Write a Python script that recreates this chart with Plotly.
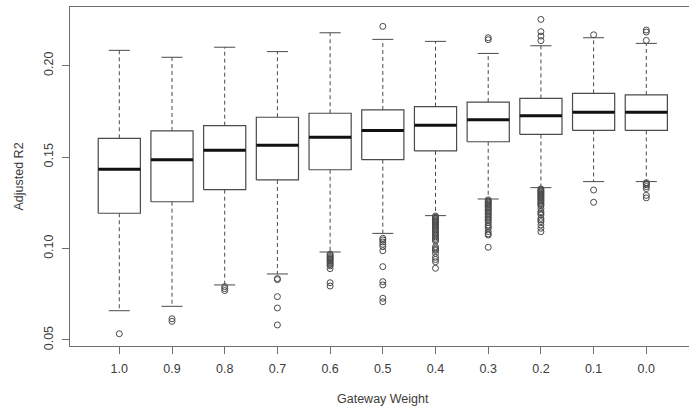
import plotly.graph_objects as go

# Gateway weight groups, left to right
weights = ["1.0", "0.9", "0.8", "0.7", "0.6", "0.5", "0.4", "0.3", "0.2", "0.1", "0.0"]

# Five-number summaries of adjusted R2 per group
lower_whisker = [0.0660, 0.0684, 0.0801, 0.0861, 0.0981, 0.1083, 0.1180, 0.1271, 0.1333, 0.1366, 0.1366]
q1 = [0.1193, 0.1256, 0.1322, 0.1375, 0.1431, 0.1486, 0.1534, 0.1584, 0.1624, 0.1646, 0.1646]
median = [0.1433, 0.1486, 0.1537, 0.1565, 0.1608, 0.1645, 0.1674, 0.1705, 0.1726, 0.1745, 0.1745]
q3 = [0.1603, 0.1643, 0.1672, 0.1718, 0.1740, 0.1758, 0.1776, 0.1801, 0.1821, 0.1849, 0.1840]
upper_whisker = [0.2084, 0.2046, 0.2101, 0.2077, 0.2180, 0.2144, 0.2133, 0.2067, 0.2109, 0.2153, 0.2122]

# Points beyond the whiskers
outliers_10 = [0.0534]
outliers_09 = [0.0616, 0.0602]
outliers_08 = [0.0792, 0.0781, 0.0770]
outliers_07 = [0.0836, 0.0830, 0.0737, 0.0675, 0.0582]
outliers_06 = [0.0970, 0.0963, 0.0956, 0.0950, 0.0945, 0.0940, 0.0934, 0.0927, 0.0919,
               0.0912, 0.0905, 0.0890, 0.0813, 0.0795]
outliers_05 = [0.2215, 0.1056, 0.1047, 0.1036, 0.1023, 0.1010, 0.0988, 0.0901, 0.0819,
               0.0801, 0.0728, 0.0709]
outliers_04 = [0.1178, 0.1172, 0.1166, 0.1160, 0.1154, 0.1148, 0.1142, 0.1135, 0.1129,
               0.1122, 0.1116, 0.1109, 0.1102, 0.1095, 0.1087, 0.1080, 0.1072, 0.1064,
               0.1056, 0.1048, 0.1041, 0.1010, 0.1001, 0.0995, 0.0989, 0.0974, 0.0952,
               0.0940, 0.0928, 0.0892]
outliers_03 = [0.2153, 0.2142, 0.1266, 0.1260, 0.1254, 0.1248, 0.1242, 0.1236, 0.1229,
               0.1222, 0.1215, 0.1208, 0.1200, 0.1192, 0.1184, 0.1176, 0.1168, 0.1160,
               0.1152, 0.1142, 0.1129, 0.1120, 0.1111, 0.1093, 0.1080, 0.1074, 0.1007]
outliers_02 = [0.2253, 0.2186, 0.2162, 0.2137, 0.1326, 0.1320, 0.1314, 0.1309, 0.1303,
               0.1298, 0.1292, 0.1287, 0.1281, 0.1275, 0.1268, 0.1262, 0.1254, 0.1247,
               0.1240, 0.1233, 0.1218, 0.1202, 0.1193, 0.1184, 0.1165, 0.1156, 0.1147,
               0.1129, 0.1111, 0.1092]
outliers_01 = [0.2169, 0.1320, 0.1253]
outliers_00 = [0.2195, 0.2184, 0.2138, 0.1360, 0.1355, 0.1349, 0.1339, 0.1328, 0.1291, 0.1277]

outliers = [outliers_10, outliers_09, outliers_08, outliers_07, outliers_06, outliers_05,
            outliers_04, outliers_03, outliers_02, outliers_01, outliers_00]

y_ticks = [0.05, 0.10, 0.15, 0.20]

LINE = "#4a4a4a"
TEXT = "#3c3c3c"
FRAME = "#6e6e6e"
HALF_BOX = 0.4
HALF_CAP = 0.2
FONT_SIZE = 12.5

pos = list(range(1, len(weights) + 1))

box_x, box_y = [], []
med_x, med_y = [], []
wh_x, wh_y = [], []
cap_x, cap_y = [], []
out_x, out_y = [], []
for i, p in enumerate(pos):
    box_x += [p - HALF_BOX, p + HALF_BOX, p + HALF_BOX, p - HALF_BOX, p - HALF_BOX, None]
    box_y += [q1[i], q1[i], q3[i], q3[i], q1[i], None]
    med_x += [p - HALF_BOX, p + HALF_BOX, None]
    med_y += [median[i], median[i], None]
    wh_x += [p, p, None, p, p, None]
    wh_y += [q3[i], upper_whisker[i], None, q1[i], lower_whisker[i], None]
    cap_x += [p - HALF_CAP, p + HALF_CAP, None, p - HALF_CAP, p + HALF_CAP, None]
    cap_y += [upper_whisker[i], upper_whisker[i], None, lower_whisker[i], lower_whisker[i], None]
    out_x += [p] * len(outliers[i])
    out_y += outliers[i]

fig = go.Figure()
fig.add_trace(go.Scatter(x=wh_x, y=wh_y, mode="lines",
                         line=dict(color=LINE, width=1, dash="4px,3px"), hoverinfo="skip"))
fig.add_trace(go.Scatter(x=cap_x, y=cap_y, mode="lines",
                         line=dict(color=LINE, width=1), hoverinfo="skip"))
fig.add_trace(go.Scatter(x=box_x, y=box_y, mode="lines",
                         line=dict(color=LINE, width=1.2), hoverinfo="skip"))
fig.add_trace(go.Scatter(x=med_x, y=med_y, mode="lines",
                         line=dict(color="#111111", width=3), hoverinfo="skip"))
fig.add_trace(go.Scatter(x=out_x, y=out_y, mode="markers",
                         marker=dict(symbol="circle-open", size=6, color=LINE,
                                     line=dict(width=1, color=LINE)),
                         hoverinfo="y"))

fig.update_layout(
    width=689, height=414,
    margin=dict(l=70, r=0, t=7, b=68),
    paper_bgcolor="white", plot_bgcolor="white",
    showlegend=False,
    font=dict(family="Liberation Sans, Arial, sans-serif", size=FONT_SIZE, color=TEXT),
    xaxis=dict(
        range=[0.0645, 11.81], tickmode="array", tickvals=pos, ticktext=weights,
        showgrid=False, zeroline=False, showline=True, mirror=True,
        linecolor=FRAME, linewidth=1, ticks="outside", ticklen=7,
        tickcolor=FRAME, tickwidth=1, ticklabelstandoff=4,
    ),
    yaxis=dict(
        range=[0.0467, 0.2321], tickmode="array", tickvals=y_ticks,
        ticktext=["0.05", "0.10", "0.15", "0.20"], tickangle=-90,
        showgrid=False, zeroline=False, showline=True, mirror=False,
        linecolor=FRAME, linewidth=1, ticks="outside", ticklen=7,
        tickcolor=FRAME, tickwidth=1, ticklabelstandoff=4,
    ),
    annotations=[
        dict(text="Gateway Weight", xref="paper", yref="paper",
             x=(383 - 70) / 619, y=0, yshift=-53, xanchor="center", yanchor="middle",
             showarrow=False, font=dict(size=FONT_SIZE, color=TEXT)),
        dict(text="Adjusted R2", xref="paper", yref="paper",
             x=0, xshift=-52, y=0.5, xanchor="center", yanchor="middle",
             textangle=-90, showarrow=False, font=dict(size=FONT_SIZE, color=TEXT)),
    ],
)

fig.write_html("out.html")
